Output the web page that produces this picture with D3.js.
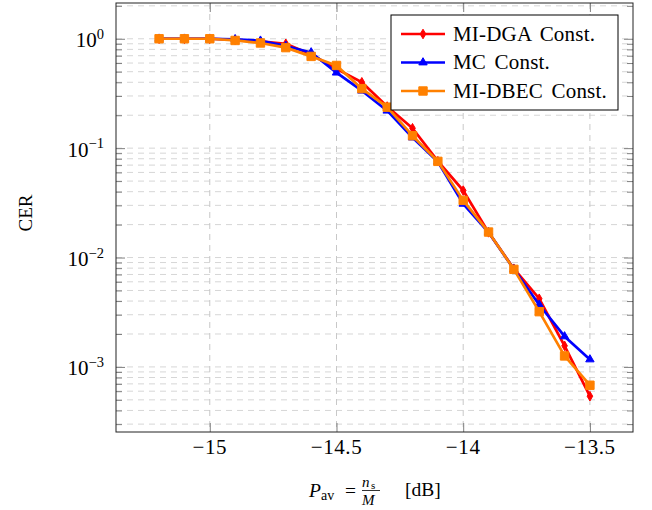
<!DOCTYPE html>
<html lang="en">
<head>
    <meta charset="UTF-8">
    <title>CER vs P_av</title>
    <script src="https://d3js.org/d3.v7.min.js"></script>
    <style>
        body { margin: 0; background: #fff; }
        text { font-family: "Liberation Serif", "Times New Roman", serif; fill: #000; }
        .grid line { stroke: #d6d6d6; stroke-width: 1; stroke-dasharray: 6,5; }
        .ticks line { stroke: #808080; stroke-width: 1; }
        .ticks path { display: none; }
    </style>
</head>
<body>
<script>
    // data
    const pav = [-15.2, -15.1, -15.0, -14.9, -14.8, -14.7, -14.6, -14.5, -14.4,
                 -14.3, -14.2, -14.1, -14.0, -13.9, -13.8, -13.7, -13.6, -13.5];
    const dgaCer = [1.0, 1.0, 1.0, 0.975, 0.945, 0.90, 0.72, 0.53, 0.40,
                    0.24, 0.152, 0.076, 0.041, 0.017, 0.0079, 0.0042, 0.00156, 0.00054];
    const mcCer = [1.0, 1.0, 1.0, 0.99, 0.96, 0.86, 0.75, 0.49, 0.335,
                   0.22, 0.125, 0.075, 0.031, 0.017, 0.0078, 0.0037, 0.0019, 0.00117];
    const dbecCer = [1.0, 1.0, 1.0, 0.965, 0.915, 0.83, 0.69, 0.57, 0.35,
                     0.237, 0.13, 0.0757, 0.0333, 0.0171, 0.0078, 0.0032, 0.00126, 0.00068];
    const seriesNames = ["MI-DGA Const.", "MC Const.", "MI-DBEC Const."];
    const xTicks = [-15, -14.5, -14, -13.5];
    const xTickLabels = ["\u221215", "\u221214.5", "\u221214", "\u221213.5"];
    const yDecades = [0, -1, -2, -3];

    const width = 652, height = 510;
    const plotL = 116, plotR = 633, plotT = 3, plotB = 432;

    const svg = d3.select("body").append("svg")
        .attr("width", width)
        .attr("height", height);

    const x = d3.scaleLinear().domain([-15.37, -13.33]).range([plotL, plotR]);
    const y = d3.scaleLog().domain([Math.pow(10, -3.595), Math.pow(10, 0.327)]).range([plotB, plotT]);

    const allY = y.ticks();
    const isMajor = v => Math.abs(Math.log10(v) - Math.round(Math.log10(v))) < 1e-6;
    const minorY = allY.filter(v => !isMajor(v));
    const majorY = allY.filter(isMajor);

    // grid
    const grid = svg.append("g").attr("class", "grid");
    grid.selectAll(".gy").data(allY).enter().append("line")
        .attr("x1", plotL).attr("x2", plotR)
        .attr("y1", d => y(d)).attr("y2", d => y(d));
    grid.selectAll(".gx").data(xTicks).enter().append("line")
        .attr("x1", d => x(d)).attr("x2", d => x(d))
        .attr("y1", plotT).attr("y2", plotB)
        .style("stroke", "#c8c8c8");

    // ticks on all four sides, pointing inwards
    const tickG = (axis, tx, ty) => svg.append("g").attr("class", "ticks")
        .attr("transform", `translate(${tx},${ty})`).call(axis);
    tickG(d3.axisBottom(x).tickValues(xTicks).tickSize(-9).tickFormat(""), 0, plotB);
    tickG(d3.axisTop(x).tickValues(xTicks).tickSize(-9).tickFormat(""), 0, plotT);
    tickG(d3.axisLeft(y).tickValues(majorY).tickSize(-9).tickFormat(""), plotL, 0);
    tickG(d3.axisLeft(y).tickValues(minorY).tickSize(-6).tickFormat(""), plotL, 0);
    tickG(d3.axisRight(y).tickValues(majorY).tickSize(-9).tickFormat(""), plotR, 0);
    tickG(d3.axisRight(y).tickValues(minorY).tickSize(-6).tickFormat(""), plotR, 0);

    // frame
    svg.append("rect")
        .attr("x", plotL).attr("y", plotT)
        .attr("width", plotR - plotL).attr("height", plotB - plotT)
        .attr("fill", "none").attr("stroke", "#222").attr("stroke-width", 1);

    // tick labels
    svg.selectAll(".xl").data(xTicks).enter().append("text")
        .attr("x", d => x(d)).attr("y", 454)
        .attr("text-anchor", "middle")
        .style("font-size", "21px")
        .style("letter-spacing", "0.6px")
        .text((d, i) => xTickLabels[i]);

    yDecades.forEach(p => {
        const t = svg.append("text")
            .attr("x", 104).attr("y", y(Math.pow(10, p)) + 8.5)
            .attr("text-anchor", "end")
            .style("font-size", "21px");
        t.append("tspan").text("10");
        t.append("tspan").attr("dy", -8.5).style("font-size", "14.5px")
            .text(p === 0 ? "0" : "\u2212" + (-p));
    });

    // axis labels
    svg.append("text")
        .attr("transform", "translate(32,213) rotate(-90)")
        .attr("text-anchor", "middle")
        .style("font-size", "19px")
        .text("CER");

    const xl = svg.append("g").style("font-size", "19.5px");
    xl.append("text").attr("x", 309).attr("y", 497).style("font-style", "italic").text("P");
    xl.append("text").attr("x", 321).attr("y", 500).style("font-size", "14px").text("av");
    xl.append("text").attr("x", 345).attr("y", 497).text("=");
    xl.append("text").attr("x", 362).attr("y", 487).style("font-size", "15px").style("font-style", "italic").text("n");
    xl.append("text").attr("x", 371).attr("y", 489).style("font-size", "11px").text("s");
    xl.append("line").attr("x1", 362).attr("x2", 380).attr("y1", 490.5).attr("y2", 490.5)
        .attr("stroke", "#000").attr("stroke-width", 0.8);
    xl.append("text").attr("x", 362).attr("y", 505).style("font-size", "15px").style("font-style", "italic").text("M");
    xl.append("text").attr("x", 405).attr("y", 496).text("[dB]");

    // series
    const series = [
        { name: seriesNames[0], values: dgaCer, color: "#ff0000", mark: "diamond" },
        { name: seriesNames[1], values: mcCer, color: "#0000ff", mark: "triangle" },
        { name: seriesNames[2], values: dbecCer, color: "#ff8000", mark: "square" }
    ];

    const markPath = {
        diamond: "M0,-4.8L2.8,0L0,4.8L-2.8,0Z",
        triangle: "M0,-4.8L4.2,2.4L-4.2,2.4Z",
        square: "M-4.2,-4.2H4.2V4.2H-4.2Z"
    };

    const line = d3.line().x(d => x(d[0])).y(d => y(d[1]));

    series.forEach(s => {
        const pts = pav.map((v, i) => [v, s.values[i]]);
        const g = svg.append("g");
        g.append("path").datum(pts)
            .attr("d", line)
            .attr("fill", "none")
            .attr("stroke", s.color)
            .attr("stroke-width", 2.7)
            .attr("stroke-linejoin", "round");
        g.selectAll("path.m").data(pts).enter().append("path")
            .attr("class", "m")
            .attr("d", markPath[s.mark])
            .attr("transform", d => `translate(${x(d[0])},${y(d[1])})`)
            .attr("fill", s.color)
            .attr("stroke", s.color)
            .attr("stroke-width", 1);
    });

    // legend
    const lg = svg.append("g");
    lg.append("rect")
        .attr("x", 391).attr("y", 15).attr("width", 227).attr("height", 95)
        .attr("fill", "#fff").attr("stroke", "#000").attr("stroke-width", 1);
    series.forEach((s, i) => {
        const ry = 34 + i * 28.5;
        lg.append("line").attr("x1", 401).attr("x2", 445).attr("y1", ry).attr("y2", ry)
            .attr("stroke", s.color).attr("stroke-width", 2.7);
        lg.append("path").attr("d", markPath[s.mark])
            .attr("transform", `translate(423,${ry})`)
            .attr("fill", s.color).attr("stroke", s.color).attr("stroke-width", 1);
        lg.append("text").attr("x", 453).attr("y", ry + 6.5)
            .style("font-size", "21px")
            .style("word-spacing", "3px")
            .style("letter-spacing", "0.2px")
            .text(s.name);
    });
</script>
</body>
</html>
